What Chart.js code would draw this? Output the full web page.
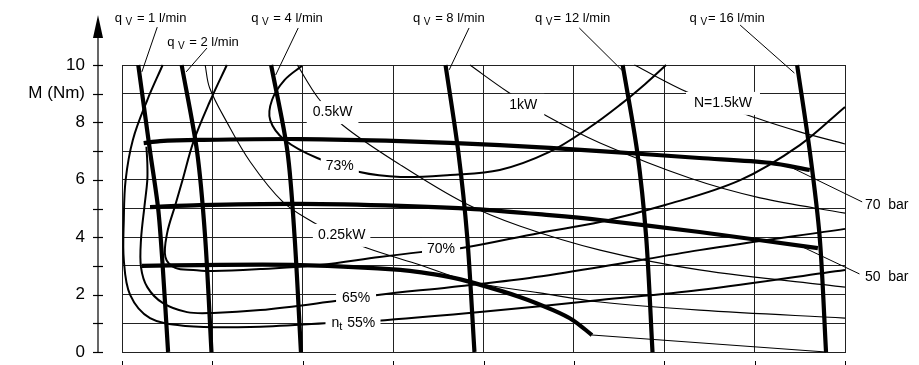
<!DOCTYPE html>
<html>
<head>
<meta charset="utf-8">
<script src="https://cdn.jsdelivr.net/npm/chart.js@4.4.1/dist/chart.umd.min.js"></script>
<style>
  body { margin: 0; background: #fff; overflow: hidden; }
  canvas { display: block; }
</style>
</head>
<body>
<canvas id="chart" width="919" height="365"></canvas>
<script>
// x = speed (8 unlabeled grid cells), y = torque M in Nm
const xMax = 8;
const yMax = 10;
const yTickLabels = { 0: '0', 2: '2', 4: '4', 6: '6', 8: '8', 9: 'M (Nm)', 10: '10' };

// flow lines q_V (l/min), thick
const flowNames = ['1', '2', '4', '8', '12', '16'];
const flow1 = [[0.18, 10], [0.31, 7], [0.40, 5], [0.45, 3], [0.51, 0]];
const flow2 = [[0.66, 10], [0.83, 7], [0.92, 4], [0.99, 0]];
const flow4 = [[1.65, 10], [1.83, 7], [1.91, 4], [1.98, 0]];
const flow8 = [[3.58, 10], [3.72, 7], [3.82, 4], [3.90, 0]];
const flow12 = [[5.54, 10], [5.70, 7], [5.80, 4], [5.87, 0]];
const flow16 = [[7.47, 10], [7.61, 7], [7.72, 4], [7.79, 0]];

// pressure lines, thick
const press70 = [[0.24, 7.28], [0.42, 7.35], [0.86, 7.39], [1.97, 7.42], [3.08, 7.35], [4.18, 7.21], [5.29, 7.0], [6.39, 6.76], [7.17, 6.59], [7.61, 6.34]];
const press50 = [[0.31, 5.05], [0.86, 5.12], [1.97, 5.16], [3.08, 5.09], [3.90, 4.98], [4.73, 4.77], [5.29, 4.6], [6.39, 4.18], [7.70, 3.62]];
const pressLow = [[0.22, 3.0], [0.86, 3.03], [1.97, 3.03], [3.08, 2.86], [3.63, 2.61], [3.90, 2.40], [4.40, 1.92], [4.77, 1.46], [4.99, 1.11], [5.20, 0.59]];
const pressLowTail = [[5.20, 0.59], [7.79, 0]];

// overall efficiency n_t
const eff73 = [[1.99, 9.97], [1.80, 9.48], [1.66, 8.78], [1.64, 8.08], [1.80, 7.39], [2.16, 6.76], [2.63, 6.27], [3.08, 6.10], [3.63, 6.17], [4.18, 6.34], [4.73, 6.97], [5.18, 7.84], [5.51, 8.61], [5.79, 9.34], [6.02, 10]];
const eff70 = [[1.16, 10], [0.97, 8.71], [0.79, 7.32], [0.67, 5.99], [0.59, 5.12], [0.50, 4.15], [0.48, 3.31], [0.59, 2.93], [0.79, 2.86], [1.01, 2.82], [1.53, 2.89], [2.19, 3.03], [2.85, 3.31], [3.30, 3.48], [3.76, 3.62], [4.62, 4.15], [5.29, 4.53], [6.01, 5.12], [6.84, 5.99], [7.50, 7.21], [8.0, 8.54]];
const eff65 = [[0.27, 7.15], [0.28, 6.6], [0.28, 5.99], [0.25, 5.12], [0.21, 3.90], [0.21, 2.96], [0.28, 2.26], [0.45, 1.71], [0.72, 1.39], [1.01, 1.36], [1.53, 1.46], [2.27, 1.74], [2.83, 1.99], [3.63, 2.26], [4.51, 2.58], [5.29, 2.96], [6.39, 3.55], [8.0, 4.29]];
const eff55 = [[0.45, 10], [0.28, 8.78], [0.12, 7.39], [0.04, 5.99], [0.02, 4.60], [0.02, 3.21], [0.09, 1.99], [0.31, 1.18], [0.70, 0.91], [1.42, 0.87], [2.30, 1.01], [2.91, 1.11], [3.96, 1.39], [5.29, 1.81], [6.39, 2.16], [8.0, 2.86]];

// power N = const, thin
const pow025 = [[0.92, 10], [0.97, 9.20], [1.16, 8.01], [1.42, 6.62], [1.78, 5.23], [2.11, 4.53], [2.41, 4.04], [2.71, 3.62], [3.30, 3.03], [3.87, 2.44], [4.62, 2.06], [5.29, 1.74], [6.39, 1.46], [8.0, 1.18]];
const pow05 = [[1.94, 10], [2.17, 8.85], [2.44, 7.91], [3.08, 6.52], [3.79, 5.19], [4.40, 4.39], [5.29, 3.55], [6.39, 2.86], [8.0, 2.26]];
const pow1 = [[3.85, 10], [4.27, 9.06], [4.70, 8.22], [5.29, 7.28], [6.28, 6.06], [7.06, 5.37], [8.0, 4.84]];
const pow15 = [[5.67, 10], [6.28, 9.02], [7.02, 8.15], [7.50, 7.67], [8.0, 7.25]];

// leader lines from the labels to their curves
const leaders = [
    [[0.39, 11.32], [0.22, 9.76]],
    [[0.94, 10.59], [0.71, 9.76]],
    [[1.95, 11.29], [1.70, 9.65]],
    [[3.84, 11.29], [3.62, 9.83]],
    [[5.06, 11.29], [5.55, 9.76]],
    [[6.84, 11.39], [7.44, 9.72]],
    [[7.42, 6.41], [8.19, 5.23]],
    [[7.53, 3.66], [8.16, 2.72]]
];

// labels sitting on curves (text, x, y of centre, side padding of the white gap)
const curveLabels = [
    ['0.5kW', 2.33, 8.36, 6],
    ['1kW', 4.44, 8.61, 7],
    ['N=1.5kW', 6.65, 8.68, 8],
    ['73%', 2.41, 6.48, 5],
    ['0.25kW', 2.43, 4.08, 5],
    ['70%', 3.53, 3.59, 5],
    ['65%', 2.59, 1.88, 6]
];
// flow labels above the plot (left x, centre y)
const flowLabelPos = [[-0.08, 11.62], [0.50, 10.8], [1.43, 11.62], [3.22, 11.62], [4.57, 11.62], [6.28, 11.62]];
const sideLabels = [['70  bar', 8.22, 5.12], ['50  bar', 8.22, 2.61]];

const FONT = '"Liberation Sans", Arial, Helvetica, sans-serif';

function toPoints(list) {
    return list.map(function (p) { return { x: p[0], y: p[1] }; });
}

function curve(list, width, tension) {
    return {
        data: toPoints(list),
        borderColor: '#000',
        borderWidth: width,
        pointRadius: 0,
        showLine: true,
        fill: false,
        tension: tension,
        clip: false
    };
}

const datasets = [];
[pow025, pow05, pow1, pow15].forEach(function (c) { datasets.push(curve(c, 1.1, 0.35)); });
[eff55, eff65, eff70, eff73].forEach(function (c) { datasets.push(curve(c, 2, 0.35)); });
datasets.push(curve(pressLowTail, 1.1, 0));
[press70, press50, pressLow].forEach(function (c) { datasets.push(curve(c, 4.2, 0.3)); });
[flow1, flow2, flow4, flow8, flow12, flow16].forEach(function (c) { datasets.push(curve(c, 4.2, 0.3)); });
leaders.forEach(function (c) { datasets.push(curve(c, 1, 0)); });

// draws text pieces, subscripts lowered and smaller
function drawParts(ctx, parts, left, cy, size) {
    let px = left;
    parts.forEach(function (p) {
        const fs = p.sub ? size - 3 : size;
        ctx.font = fs + 'px ' + FONT;
        ctx.fillText(p.t, px, cy + (p.sub ? 4 : 0));
        px += ctx.measureText(p.t).width + (p.sub ? 1 : 0);
    });
}

const decor = {
    id: 'decor',
    afterDatasetsDraw(chart) {
        const ctx = chart.ctx;
        const x = chart.scales.x;
        const y = chart.scales.y;
        ctx.save();
        ctx.textBaseline = 'middle';

        curveLabels.forEach(function (l) {
            const cx = x.getPixelForValue(l[1]);
            const cy = y.getPixelForValue(l[2]);
            ctx.font = '14px ' + FONT;
            const w = ctx.measureText(l[0]).width;
            ctx.fillStyle = '#fff';
            ctx.fillRect(cx - w / 2 - l[3], cy - 11, w + 2 * l[3], 23);
            ctx.fillStyle = '#000';
            ctx.textAlign = 'center';
            ctx.fillText(l[0], cx, cy);
        });

        // n_t 55% label
        ctx.textAlign = 'left';
        const ex = x.getPixelForValue(2.65);
        const ey = y.getPixelForValue(1.01);
        ctx.fillStyle = '#fff';
        ctx.fillRect(ex - 36, ey - 11, 55, 25);
        ctx.fillStyle = '#000';
        drawParts(ctx, [{ t: 'n' }, { t: 't', sub: true }, { t: ' 55%' }], ex - 30, ey, 14);

        sideLabels.forEach(function (l) {
            ctx.font = '14px ' + FONT;
            ctx.fillText(l[0], x.getPixelForValue(l[1]), y.getPixelForValue(l[2]));
        });

        flowNames.forEach(function (n, i) {
            const eq = i >= 4 ? '= ' : ' = ';
            drawParts(ctx, [{ t: 'q ' }, { t: 'V', sub: true }, { t: eq + n + ' l/min' }],
                x.getPixelForValue(flowLabelPos[i][0]), y.getPixelForValue(flowLabelPos[i][1]), 13);
        });
        ctx.restore();
    },
    afterDraw(chart) {
        const ctx = chart.ctx;
        const area = chart.chartArea;
        const x = chart.scales.x;
        const y = chart.scales.y;
        const ax = area.left - 24;
        ctx.save();
        ctx.strokeStyle = '#000';
        ctx.fillStyle = '#000';
        ctx.lineWidth = 1.2;
        // y axis with arrow
        ctx.beginPath();
        ctx.moveTo(ax, y.getPixelForValue(0));
        ctx.lineTo(ax, area.top - 28);
        ctx.stroke();
        ctx.beginPath();
        ctx.moveTo(ax, area.top - 50);
        ctx.lineTo(ax - 5, area.top - 27);
        ctx.lineTo(ax + 5, area.top - 27);
        ctx.closePath();
        ctx.fill();
        for (let v = 0; v <= yMax; v++) {
            const py = Math.round(y.getPixelForValue(v)) + 0.5;
            ctx.beginPath();
            ctx.moveTo(ax - 5, py);
            ctx.lineTo(ax + 5, py);
            ctx.stroke();
        }
        // x ticks below the grid
        ctx.lineWidth = 1;
        for (let v = 0; v <= xMax; v++) {
            const px = Math.round(x.getPixelForValue(v)) + 0.5;
            ctx.beginPath();
            ctx.moveTo(px, area.bottom + 9);
            ctx.lineTo(px, area.bottom + 14);
            ctx.stroke();
        }
        ctx.restore();
    }
};

new Chart(document.getElementById('chart'), {
    type: 'scatter',
    data: { datasets: datasets },
    options: {
        responsive: false,
        animation: false,
        events: [],
        layout: { padding: { top: 65, right: 74, bottom: 0, left: 0 } },
        plugins: { legend: { display: false }, tooltip: { enabled: false } },
        scales: {
            x: {
                type: 'linear', min: 0, max: xMax,
                ticks: { display: false, stepSize: 1 },
                grid: { color: '#222', lineWidth: 1, drawTicks: false },
                border: { display: true, color: '#222', width: 1 },
                afterFit: function (s) { s.height = 13; }
            },
            y: {
                type: 'linear', min: 0, max: yMax,
                ticks: {
                    stepSize: 1,
                    padding: 37,
                    color: '#000',
                    font: { size: 17, family: FONT },
                    callback: function (v) { return yTickLabels[v] || ''; }
                },
                grid: { color: '#222', lineWidth: 1, drawTicks: false },
                border: { display: true, color: '#222', width: 1 },
                afterFit: function (s) {
                    s.width = 122;
                    // tick label overhang would shrink the plot, the layout padding already leaves room
                    s.paddingTop = 0;
                    s.paddingBottom = 0;
                }
            }
        }
    },
    plugins: [decor]
});
</script>
</body>
</html>
